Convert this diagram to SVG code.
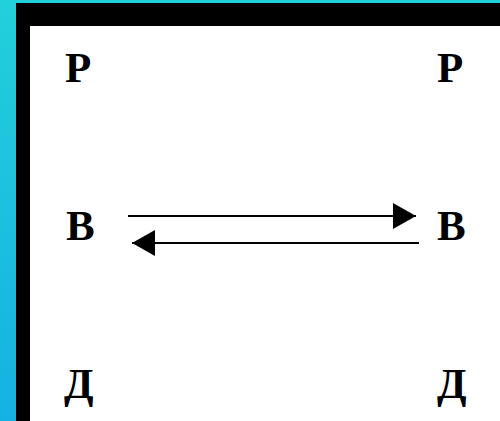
<svg xmlns="http://www.w3.org/2000/svg" width="500" height="421" viewBox="0 0 500 421">
  <defs>
    <linearGradient id="bg" x1="0" y1="0" x2="0" y2="1">
      <stop offset="0" stop-color="#22d0da"/>
      <stop offset="1" stop-color="#14b2e2"/>
    </linearGradient>
    <marker id="head" viewBox="0 0 23 26" refX="23" refY="13" markerWidth="23" markerHeight="26" markerUnits="userSpaceOnUse" orient="auto">
      <path d="M0,0 L23,13 L0,26 Z" fill="#000"/>
    </marker>
    <style>
      .lbl { font-family: "Liberation Serif", "Times New Roman", serif; font-weight: bold; font-size: 43px; fill: #000; }
      .link { stroke: #000; stroke-width: 2; fill: none; marker-end: url(#head); }
    </style>
  </defs>

  <!-- backdrop and frame -->
  <rect x="0" y="0" width="500" height="421" fill="url(#bg)"/>
  <rect x="16" y="3" width="484" height="418" fill="#000"/>
  <rect x="30" y="26" width="470" height="395" fill="#fff"/>

  <!-- left column -->
  <g id="p-left"><text class="lbl" x="65" y="82">Р</text></g>
  <g id="v-left"><text class="lbl" x="66" y="240">В</text></g>
  <g id="d-left"><text class="lbl" x="64" y="398">Д</text></g>

  <!-- right column -->
  <g id="p-right"><text class="lbl" x="437" y="82">Р</text></g>
  <g id="v-right"><text class="lbl" x="437" y="240">В</text></g>
  <g id="d-right"><text class="lbl" x="437" y="398">Д</text></g>

  <!-- reversible exchange between the two В -->
  <g id="connectors">
    <line class="link" x1="128" y1="216" x2="416" y2="216"/>
    <line class="link" x1="419" y1="243" x2="132" y2="243"/>
  </g>
</svg>
